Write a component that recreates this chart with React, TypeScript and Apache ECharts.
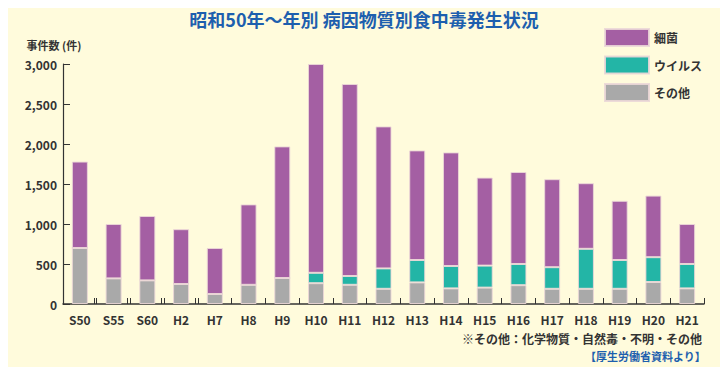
import React, { useEffect, useRef } from "react";
import * as echarts from "echarts";

const categories = ["S50", "S55", "S60", "H2", "H7", "H8", "H9", "H10", "H11", "H12", "H13", "H14", "H15", "H16", "H17", "H18", "H19", "H20", "H21"];
const bacteria = [1080, 680, 805, 685, 575, 1005, 1645, 2610, 2400, 1775, 1370, 1420, 1100, 1150, 1100, 820, 740, 770, 500];
const virus = [0, 0, 0, 0, 0, 0, 0, 130, 110, 255, 280, 280, 275, 265, 270, 500, 360, 310, 305];
const other = [700, 320, 295, 250, 125, 240, 325, 260, 240, 190, 270, 195, 205, 235, 190, 190, 190, 275, 195];
const yTicks = { min: 0, max: 3000, interval: 500 };
// boundaries (after category index) drawn as a break mark "||"
const breakAfter = [0, 1, 2, 3];

const FONT = "'Noto Sans CJK JP', 'Noto Sans', sans-serif";
const BG = "#FFFBDC";
const DARK = "#333333";
const BLUE = "#1D5FAE";

export default function App() {
  const ref = useRef<HTMLDivElement>(null);
  useEffect(() => {
    if (!ref.current) return;
    const chart = echarts.init(ref.current, undefined, { renderer: "svg" });
    const barStyle = (color: string) => ({ color, borderColor: "rgba(235,215,215,0.9)", borderWidth: 1 });
    chart.setOption({
      animation: false,
      backgroundColor: BG,
      textStyle: { fontFamily: FONT },
      title: {
        text: "昭和50年～年別 病因物質別食中毒発生状況",
        left: "center",
        top: 5,
        textStyle: { color: BLUE, fontSize: 18, fontWeight: "bold", fontFamily: FONT },
      },
      legend: {
        orient: "vertical",
        left: 604,
        top: 28,
        padding: 0,
        itemWidth: 44,
        itemHeight: 17,
        itemGap: 8.5,
        icon: "rect",
        data: ["細菌", "ウイルス", "その他"],
        textStyle: { color: DARK, fontSize: 12, fontWeight: "bold", fontFamily: FONT },
      },
      grid: { left: 63, right: 24, top: 64, bottom: 71, containLabel: false },
      xAxis: {
        type: "category",
        data: categories,
        boundaryGap: true,
        axisLine: { lineStyle: { color: DARK, width: 1.5 } },
        axisTick: { show: true, inside: true, length: 6, interval: 0, lineStyle: { color: DARK } },
        axisLabel: { color: DARK, fontSize: 12, fontWeight: "bold", margin: 9, interval: 0, fontFamily: FONT },
      },
      yAxis: {
        type: "value",
        min: yTicks.min,
        max: yTicks.max,
        interval: yTicks.interval,
        name: "事件数 (件)",
        nameLocation: "end",
        nameGap: 14,
        nameTextStyle: { color: DARK, fontSize: 11, fontWeight: "bold", align: "center", padding: [0, 18, 0, 0] },
        axisLine: { show: true, lineStyle: { color: DARK, width: 1.2 } },
        axisTick: { show: true, inside: true, length: 7, lineStyle: { color: DARK } },
        axisLabel: {
          color: DARK,
          fontSize: 12,
          fontWeight: "bold",
          margin: 6,
          fontFamily: FONT,
          formatter: (v: number) => v.toLocaleString("en-US"),
        },
        splitLine: { show: false },
      },
      series: [
        { name: "その他", type: "bar", stack: "a", data: other, barWidth: 16, itemStyle: barStyle("#A9A9A9") },
        { name: "ウイルス", type: "bar", stack: "a", data: virus, barWidth: 16, itemStyle: barStyle("#23B5A6") },
        { name: "細菌", type: "bar", stack: "a", data: bacteria, barWidth: 16, itemStyle: barStyle("#A45FA3") },
      ],
    });

    const y0 = chart.convertToPixel({ gridIndex: 0 }, [0, 0])[1];
    const extra = breakAfter.map((i) => {
      const a = chart.convertToPixel({ gridIndex: 0 }, [i, 0])[0];
      const b = chart.convertToPixel({ gridIndex: 0 }, [i + 1, 0])[0];
      const x = Math.round((a + b) / 2) - 2.5;
      return { type: "line", shape: { x1: x, y1: y0, x2: x, y2: y0 - 6 }, style: { stroke: DARK, lineWidth: 1 } };
    });

    chart.setOption({
      graphic: [
        ...extra,
        {
          type: "text",
          right: 26,
          top: 332,
          style: { text: "※その他：化学物質・自然毒・不明・その他", fill: DARK, font: `bold 12px ${FONT}` },
        },
        {
          type: "text",
          right: 22,
          top: 350,
          style: { text: "【厚生労働省資料より】", fill: BLUE, font: `bold 11px ${FONT}` },
        },
      ],
    });
    return () => chart.dispose();
  }, []);
  return <div ref={ref} style={{ width: 728, height: 375, margin: -8 }} />;
}
